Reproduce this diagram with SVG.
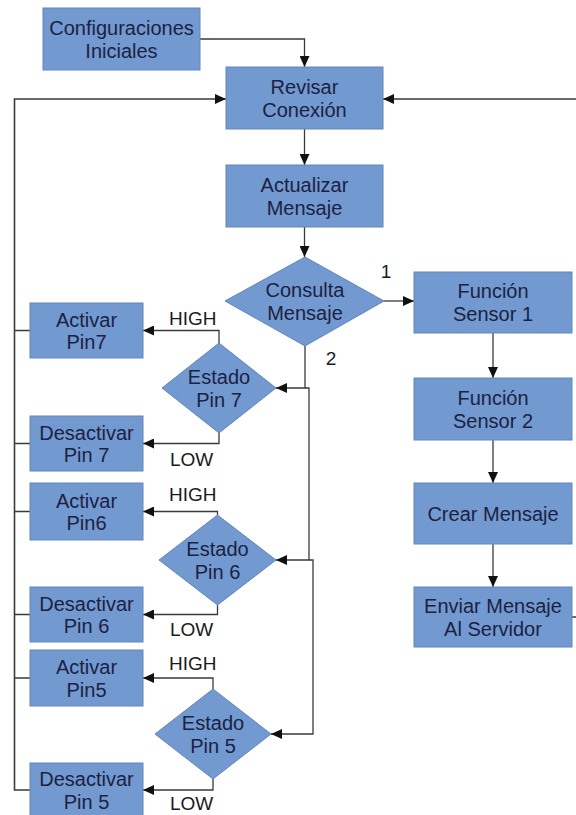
<svg xmlns="http://www.w3.org/2000/svg" width="576" height="815" viewBox="0 0 576 815">
<style>
.box{fill:#7399d1;stroke:#6286bd;stroke-width:1}
.t{font-family:"Liberation Sans",Arial,sans-serif;font-size:20px;fill:#1b2242;text-anchor:middle}
.lbl{font-family:"Liberation Sans",Arial,sans-serif;font-size:19px;fill:#1a1a1a}
.c{fill:none;stroke:#3a3a3a;stroke-width:1.3}
</style>
<defs>
<marker id="ah" markerUnits="userSpaceOnUse" markerWidth="12" markerHeight="10" refX="11" refY="5" orient="auto">
<path d="M0,0 L11,5 L0,10 z" fill="#111"/>
</marker>
</defs>
<rect width="576" height="815" fill="#fff"/>
<g id="connectors">
<path class="c" d="M200,39 H304.5 V67" marker-end="url(#ah)"/>
<path class="c" d="M304.5,129 V165" marker-end="url(#ah)"/>
<path class="c" d="M304.5,227 V257" marker-end="url(#ah)"/>
<path class="c" d="M384,301 H414" marker-end="url(#ah)"/>
<path class="c" d="M493,333 V378" marker-end="url(#ah)"/>
<path class="c" d="M493,440 V483" marker-end="url(#ah)"/>
<path class="c" d="M493,544 V587" marker-end="url(#ah)"/>
<path class="c" d="M572,617 H582 V99 H383" marker-end="url(#ah)"/>
<path class="c" d="M30,790 H14.5 V99 H226" marker-end="url(#ah)" style="stroke-width:1.6"/>
<path class="c" d="M30,330.5 H14.5 M30,443.5 H14.5 M30,511.5 H14.5 M30,614.5 H14.5 M30,678 H14.5"/>
<path class="c" d="M305,346 V388 H276" marker-end="url(#ah)"/>
<path class="c" d="M305,388 H309 V560 H276" marker-end="url(#ah)"/>
<path class="c" d="M309,560 H313 V734 H271" marker-end="url(#ah)"/>
<path class="c" d="M219,343 V330.5 H143" marker-end="url(#ah)"/>
<path class="c" d="M219,433 V443.5 H143" marker-end="url(#ah)"/>
<path class="c" d="M217.5,515 V511.5 H143" marker-end="url(#ah)"/>
<path class="c" d="M217.5,605 V614.5 H143" marker-end="url(#ah)"/>
<path class="c" d="M213,689 V678 H143" marker-end="url(#ah)"/>
<path class="c" d="M213,779 V790 H143" marker-end="url(#ah)"/>
</g>
<g id="labels">
<text class="lbl" x="386" y="278" text-anchor="middle">1</text>
<text class="lbl" x="331" y="365" text-anchor="middle">2</text>
<text class="lbl" x="169" y="325">HIGH</text>
<text class="lbl" x="170" y="466">LOW</text>
<text class="lbl" x="169" y="501">HIGH</text>
<text class="lbl" x="170" y="636">LOW</text>
<text class="lbl" x="169" y="670">HIGH</text>
<text class="lbl" x="170" y="810">LOW</text>
</g>
<g id="config"><rect class="box" x="43" y="8" width="157" height="62"/><text class="t" x="121.5" y="35">Configuraciones</text><text class="t" x="121.5" y="57.5">Iniciales</text></g>
<g id="revisar"><rect class="box" x="226" y="67" width="157" height="62"/><text class="t" x="304.5" y="94">Revisar</text><text class="t" x="304.5" y="116.5">Conexión</text></g>
<g id="actualizar"><rect class="box" x="226" y="165" width="157" height="62"/><text class="t" x="304.5" y="192">Actualizar</text><text class="t" x="304.5" y="214.5">Mensaje</text></g>
<g id="consulta"><polygon class="box" points="305,257 384,301 305,346 225,301"/><text class="t" x="305" y="297">Consulta</text><text class="t" x="305" y="319.5">Mensaje</text></g>
<g id="sensor1"><rect class="box" x="414" y="272" width="158" height="61"/><text class="t" x="493" y="298">Función</text><text class="t" x="493" y="320.5">Sensor 1</text></g>
<g id="sensor2"><rect class="box" x="414" y="378" width="158" height="62"/><text class="t" x="493" y="405">Función</text><text class="t" x="493" y="427.5">Sensor 2</text></g>
<g id="crear"><rect class="box" x="414" y="483" width="158" height="61"/><text class="t" x="493" y="521">Crear Mensaje</text></g>
<g id="enviar"><rect class="box" x="414" y="587" width="158" height="60"/><text class="t" x="493" y="613">Enviar Mensaje</text><text class="t" x="493" y="635.5">Al Servidor</text></g>
<g id="activar7"><rect class="box" x="30" y="303" width="113" height="55"/><text class="t" x="86.5" y="326.5">Activar</text><text class="t" x="86.5" y="349">Pin7</text></g>
<g id="estado7"><polygon class="box" points="219,343 276,388 219,433 162,388"/><text class="t" x="219" y="384">Estado</text><text class="t" x="219" y="406.5">Pin 7</text></g>
<g id="desactivar7"><rect class="box" x="30" y="416" width="113" height="55"/><text class="t" x="86.5" y="439.5">Desactivar</text><text class="t" x="86.5" y="462">Pin 7</text></g>
<g id="activar6"><rect class="box" x="30" y="483" width="113" height="57"/><text class="t" x="86.5" y="507.5">Activar</text><text class="t" x="86.5" y="530">Pin6</text></g>
<g id="estado6"><polygon class="box" points="217.5,515 276,560 217.5,605 159,560"/><text class="t" x="217.5" y="556">Estado</text><text class="t" x="217.5" y="578.5">Pin 6</text></g>
<g id="desactivar6"><rect class="box" x="30" y="587" width="113" height="55"/><text class="t" x="86.5" y="610.5">Desactivar</text><text class="t" x="86.5" y="633">Pin 6</text></g>
<g id="activar5"><rect class="box" x="30" y="650" width="113" height="56"/><text class="t" x="86.5" y="674">Activar</text><text class="t" x="86.5" y="696.5">Pin5</text></g>
<g id="estado5"><polygon class="box" points="213,689 271,734 213,779 155,734"/><text class="t" x="213" y="730">Estado</text><text class="t" x="213" y="752.5">Pin 5</text></g>
<g id="desactivar5"><rect class="box" x="30" y="763" width="113" height="55"/><text class="t" x="86.5" y="786">Desactivar</text><text class="t" x="86.5" y="808.5">Pin 5</text></g>
</svg>
